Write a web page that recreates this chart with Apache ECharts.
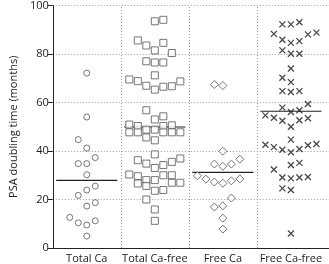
<!DOCTYPE html>
<html>
<head>
<meta charset="utf-8">
<script src="https://cdn.jsdelivr.net/npm/echarts@6/dist/echarts.min.js"></script>
<style>
  html, body { margin: 0; padding: 0; background: #fff; }
  #chart { width: 329px; height: 264px; }
</style>
</head>
<body>
<div id="chart"></div>
<script>
// group names along the bottom
const groups = ["Total Ca", "Total Ca-free", "Free Ca", "Free Ca-free"];
const yTicks = [0, 20, 40, 60, 80, 100];

// PSA doubling time (months), with the column slot of each mark in the swarm
const totalCa = [72.1, 54.0, 44.7, 41.2, 34.8, 34.8, 37.3, 30.2, 25.5, 23.9, 21.7, 18.7, 17.3, 12.6, 10.4, 9.5, 11.2, 4.9];
const totalCaSlot = [0, 0, -1, 0, -1, 0, 1, 0, 1, 0, -1, 1, 0, -2, -1, 0, 1, 0];

const totalCaFree = [
	94.1, 93.5,
	85.6, 83.5, 81.5, 84.6, 80.4,
	77.0, 76.5, 76.5,
	71.2,
	69.5, 68.8, 66.9, 65.3, 66.5, 66.7, 68.7,
	56.8, 53.0, 54.3,
	50.9, 50.3, 50.3, 50.6,
	48.8, 48.8,
	47.7, 47.7, 47.7, 47.7, 47.7,
	45.6, 44.4,
	38.6, 36.2, 34.8, 33.0, 34.2, 35.5, 36.9,
	30.3, 29.6, 26.6, 28.0, 25.6, 28.0, 30.0, 30.0, 26.9, 26.9,
	23.6, 23.9, 20.0, 15.9, 11.2,
];
const totalCaFreeSlot = [
	1, 0,
	-2, -1, 0, 1, 2,
	-1, 0, 1,
	0,
	-3, -2, -1, 0, 1, 2, 3,
	-1, 0, 1,
	-3, -2, 1, 2,
	-1, 0,
	-3, -2, 1, 2, 3,
	-1, 0,
	0, -2, -1, 0, 1, 2, 3,
	-3, -2, -2, -1, -1, 0, 1, 2, 2, 3,
	0, 1, -1, 0, 0,
];

const freeCa = [67.4, 67.0, 39.9, 34.6, 33.7, 34.6, 36.6, 29.8, 28.4, 27.2, 26.7, 27.7, 28.5, 20.6, 16.9, 17.4, 12.3, 7.8];
const freeCaSlot = [-1, 0, 0, -1, 0, 1, 2, -3, -2, -1, 0, 1, 2, 1, -1, 0, 0, 0];

const freeCaFree = [
	92.2, 92.2, 93.1,
	88.3,
	85.9, 84.6, 85.3, 88.1, 88.8,
	81.5, 80.1, 80.1,
	74.0,
	70.2, 68.4,
	64.7, 64.3, 64.7,
	57.9, 59.4,
	56.1, 56.8,
	54.7, 53.7, 52.5, 50.0, 52.7, 53.5,
	44.7,
	42.6, 41.6, 40.5, 39.5, 40.8, 42.4, 42.9,
	35.1, 34.2, 32.4,
	29.1, 28.7, 29.1, 29.3,
	24.6, 23.9,
	6.0,
];
const freeCaFreeSlot = [
	-1, 0, 1,
	-2,
	-1, 0, 1, 2, 3,
	-1, 0, 1,
	0,
	-1, 0,
	-1, 0, 1,
	-1, 2,
	0, 1,
	-3, -2, -1, 0, 1, 2,
	0,
	-3, -2, -1, 0, 1, 2, 3,
	1, 0, -2,
	-1, 0, 1, 2,
	-1, 0,
	0,
];

// median of each group
const medians = [27.9, 49.9, 31.2, 56.4];

const SLOT = 0.125; // width of one swarm column in category units
const place = (vals, slots, g) => vals.map((v, i) => [g + 0.5 + slots[i] * SLOT, v]);

const chart = echarts.init(document.getElementById("chart"), null, { renderer: "canvas" });

const FONT = "'Open Sans', 'DejaVu Sans', sans-serif";
const dotted = { color: "#9a9a9a", type: [1, 2], width: 1 };

const markStyle = (color) => ({ color: "#fff", borderColor: color, borderWidth: 1 });

chart.setOption({
	animation: false,
	grid: { left: 42, right: 0, top: 5, bottom: 16 },
	xAxis: {
		type: "value",
		min: 0,
		max: 4.06,
		interval: 0.5,
		axisLine: { show: true, onZero: false, lineStyle: { color: "#222", width: 1 } },
		axisTick: { show: false },
		splitLine: { show: false },
		axisLabel: {
			margin: 5,
			color: "#222",
			fontSize: 11,
			fontFamily: FONT,
			showMaxLabel: false,
			formatter: (v) => {
				const k = v - 0.5;
				return Number.isInteger(k) && groups[k] ? groups[k] : "";
			},
		},
	},
	yAxis: {
		type: "value",
		min: yTicks[0],
		max: yTicks[yTicks.length - 1],
		interval: 20,
		name: "PSA doubling time (months)",
		nameLocation: "middle",
		nameGap: 27,
		nameTextStyle: { color: "#222", fontSize: 11, fontFamily: FONT },
		axisLine: { show: true, lineStyle: { color: "#222", width: 1 } },
		axisTick: { show: true, length: 5, lineStyle: { color: "#222" } },
		axisLabel: { margin: 4, color: "#222", fontSize: 11, fontFamily: FONT },
		splitLine: { show: true, lineStyle: dotted },
	},
	series: [
		{
			name: "Total Ca",
			type: "scatter",
			symbol: "circle",
			symbolSize: 6,
			itemStyle: markStyle("#555"),
			data: place(totalCa, totalCaSlot, 0),
			// dotted boundaries between the groups
			markLine: {
				silent: true,
				symbol: "none",
				label: { show: false },
				lineStyle: dotted,
				data: [{ xAxis: 1 }, { xAxis: 2 }, { xAxis: 3 }],
			},
		},
		{
			name: "Total Ca-free",
			type: "scatter",
			symbol: "rect",
			symbolSize: 7,
			itemStyle: markStyle("#555"),
			data: place(totalCaFree, totalCaFreeSlot, 1),
		},
		{
			name: "Free Ca",
			type: "scatter",
			symbol: "diamond",
			symbolSize: [8, 8],
			itemStyle: markStyle("#555"),
			data: place(freeCa, freeCaSlot, 2),
		},
		{
			name: "Free Ca-free",
			type: "scatter",
			symbol: "path://M0,0L10,10M10,0L0,10",
			symbolSize: 6,
			itemStyle: { color: "none", borderColor: "#1a1a1a", borderWidth: 1.3 },
			data: place(freeCaFree, freeCaFreeSlot, 3),
		},
		// median bars
		...medians.map((m, g) => ({
			name: "median " + groups[g],
			type: "line",
			symbol: "none",
			lineStyle: { color: "#222", width: 1.2 },
			data: [[g + 0.05, m], [g + 0.95, m]],
			z: 1,
		})),
	],
});
</script>
</body>
</html>
